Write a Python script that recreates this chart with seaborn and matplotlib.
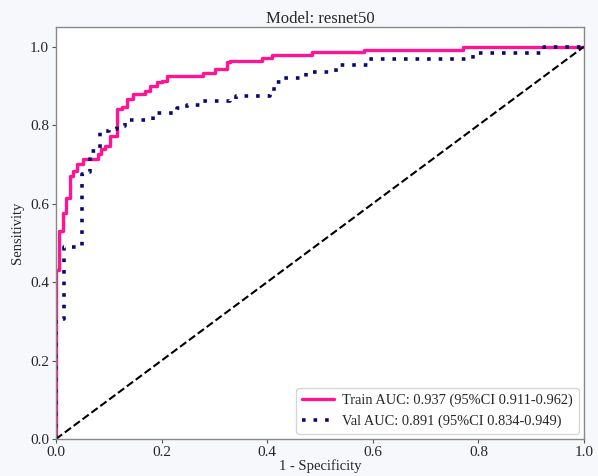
import matplotlib
matplotlib.use("Agg")
import matplotlib.pyplot as plt
import seaborn as sns
import pandas as pd

# ROC vertices (fpr, tpr), drawn as steps
train_fpr = [0.0, 0.0, 0.005, 0.014, 0.019, 0.027, 0.033, 0.039, 0.052, 0.080,
             0.086, 0.093, 0.102, 0.115, 0.125, 0.134, 0.145, 0.169, 0.178, 0.191,
             0.200, 0.210, 0.279, 0.302, 0.324, 0.330, 0.390, 0.410, 0.485, 0.583,
             0.770, 1.0]
train_tpr = [0.0, 0.43, 0.53, 0.577, 0.615, 0.671, 0.682, 0.700, 0.713, 0.726,
             0.740, 0.747, 0.773, 0.842, 0.846, 0.867, 0.880, 0.888, 0.900, 0.909,
             0.913, 0.926, 0.934, 0.943, 0.960, 0.964, 0.971, 0.978, 0.985, 0.992,
             1.0, 1.0]

val_fpr = [0.0, 0.0, 0.015, 0.049, 0.057, 0.065, 0.083, 0.100, 0.115, 0.131,
           0.184, 0.229, 0.248, 0.277, 0.330, 0.340, 0.406, 0.416, 0.430, 0.473,
           0.531, 0.590, 0.789, 0.925, 1.0]
val_tpr = [0.0, 0.306, 0.49, 0.675, 0.680, 0.735, 0.786, 0.790, 0.798, 0.813,
           0.830, 0.844, 0.852, 0.861, 0.866, 0.875, 0.892, 0.910, 0.920, 0.936,
           0.952, 0.968, 0.984, 1.0, 1.0]

train_label = "Train AUC: 0.937 (95%CI 0.911-0.962)"
val_label = "Val AUC: 0.891 (95%CI 0.834-0.949)"
model_name = "resnet50"

sns.set_theme(style="ticks")
plt.rcParams["font.family"] = ["Liberation Serif", "DejaVu Serif"]

fig = plt.figure(figsize=(5.98, 4.76), dpi=100, facecolor="#f7f8fb")
ax = fig.add_axes([0.0936, 0.0777, 0.883, 0.8656])

train_df = pd.DataFrame({"fpr": train_fpr, "tpr": train_tpr})
val_df = pd.DataFrame({"fpr": val_fpr, "tpr": val_tpr})

sns.lineplot(data=train_df, x="fpr", y="tpr", ax=ax, sort=False, estimator=None,
             drawstyle="steps-post", color="#ff1493", linewidth=2.4,
             label=train_label)
sns.lineplot(data=val_df, x="fpr", y="tpr", ax=ax, sort=False, estimator=None,
             drawstyle="steps-post", color="#0a0a6e", linewidth=2.6,
             linestyle=(0, (1, 2.2)), label=val_label)
ax.plot([0, 1], [0, 1], color="black", linestyle="--", linewidth=1.5)

ax.set_xlim(0, 1.0)
ax.set_ylim(0, 1.05)
ax.set_xticks([0, 0.2, 0.4, 0.6, 0.8, 1.0])
ax.set_yticks([0, 0.2, 0.4, 0.6, 0.8, 1.0])
ax.tick_params(labelsize=11, length=3, width=0.8, color="#555555", pad=2)
for s in ax.spines.values():
    s.set_color("#888888")
    s.set_linewidth(1.0)

ax.set_title(f"Model: {model_name}", fontsize=12, pad=3)
ax.set_xlabel("1 - Specificity", fontsize=10.5, labelpad=0)
ax.set_ylabel("Sensitivity", fontsize=10.5)

ax.legend(loc="lower right", fontsize=10.4, frameon=True, handlelength=2.2,
          handletextpad=0.6, borderaxespad=0.35, borderpad=0.4,
          labelspacing=0.5)

fig.savefig("out.png", dpi=100, facecolor=fig.get_facecolor())
